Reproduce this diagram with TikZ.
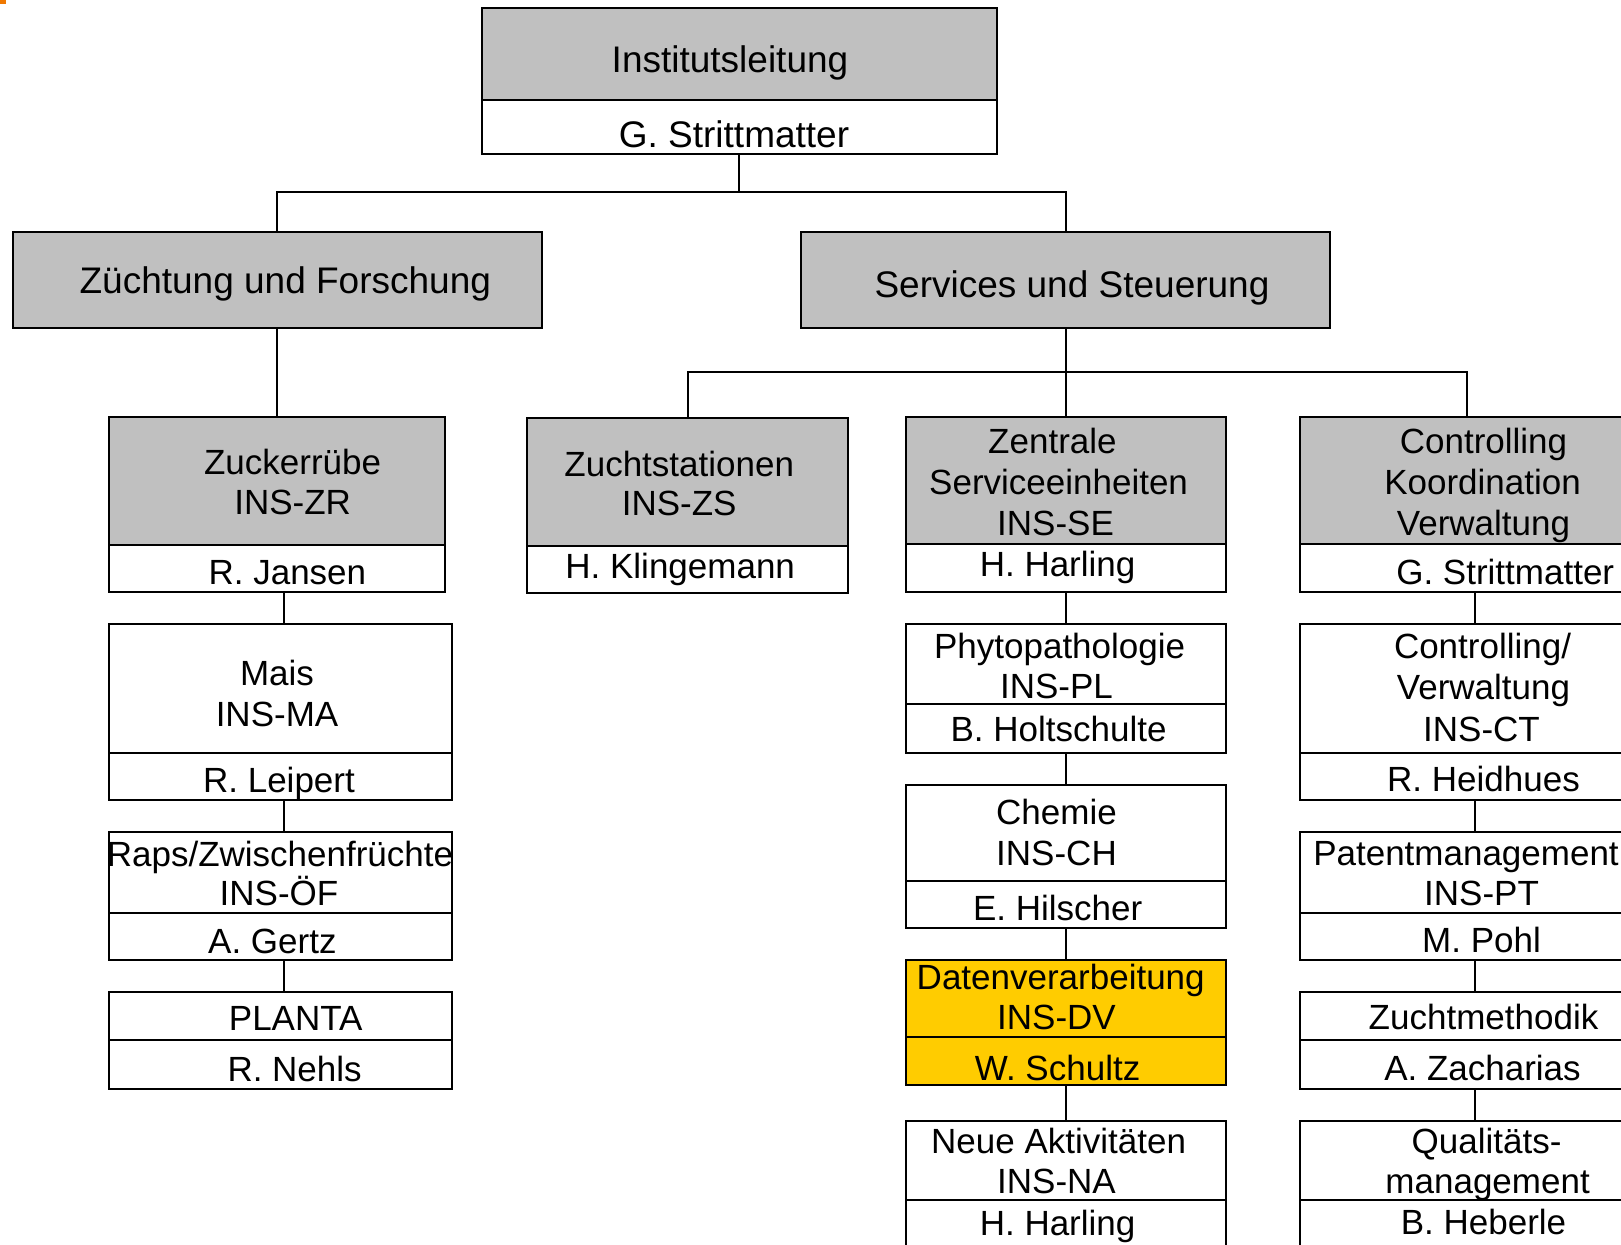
\documentclass[tikz,border=0pt]{standalone}
\usepackage{fontspec}
\setmainfont{Liberation Sans}
\definecolor{boxgrey}{RGB}{192,192,192}
\definecolor{dvgold}{RGB}{255,204,0}
\definecolor{markorange}{RGB}{240,120,0}
\newcommand\orgbox[6]{\node[#6, minimum width={#3-#2}, minimum height={#5-#4}, anchor=north west] (#1) at (#2,#4) {};}
\tikzset{
  frame/.style={draw=black, line width=2pt, inner sep=0pt, outer sep=0pt},
  greybox/.style={frame, fill=boxgrey},
  whitebox/.style={frame, fill=white},
  goldbox/.style={frame, fill=dvgold},
  lbl/.style={inner sep=0pt, anchor=base, font=\fontsize{35}{41}\selectfont},
  biglbl/.style={lbl, font=\fontsize{37}{43}\selectfont},
  conn/.style={draw=black, line width=2pt},
}
\begin{document}
\begin{tikzpicture}[x=1pt,y=-1pt]
\useasboundingbox (0,0) rectangle (1621,1244);
\fill[white] (0,0) rectangle (1621,1244);
\clip (0,0) rectangle (1621,1244);
\fill[markorange] (0,0) rectangle (6,3.6);

% column coordinates for connectors
\coordinate (cTop) at (739,0);
\coordinate (cZF) at (277,0);
\coordinate (cSS) at (1065.5,0);
\coordinate (cZS) at (687.5,0);
\coordinate (cRC) at (1466.5,0);
\coordinate (cL) at (284,0);
\coordinate (cM) at (1065.8,0);
\coordinate (cR) at (1475,0);
\coordinate (j1) at (739,192);
\coordinate (j2) at (1065.5,372);

% boxes
\orgbox{ilH}{482}{997}{8.3}{100.3}{greybox}
\orgbox{ilP}{482}{997}{100.3}{154}{whitebox}
\orgbox{zf}{13.4}{541.7}{231.6}{327.7}{greybox}
\orgbox{ss}{801.2}{1329.5}{231.6}{327.7}{greybox}

\orgbox{zrH}{108.5}{444.5}{416.6}{544.8}{greybox}
\orgbox{zrP}{108.5}{444.5}{544.8}{592.4}{whitebox}
\orgbox{maH}{108.5}{451.8}{624.4}{752.6}{whitebox}
\orgbox{maP}{108.5}{451.8}{752.6}{800.2}{whitebox}
\orgbox{ofH}{108.5}{451.8}{832.2}{912.8}{whitebox}
\orgbox{ofP}{108.5}{451.8}{912.8}{960.4}{whitebox}
\orgbox{plH}{108.5}{451.8}{992.4}{1040}{whitebox}
\orgbox{plP}{108.5}{451.8}{1040}{1088.6}{whitebox}

\orgbox{zsH}{527.2}{847.7}{417.7}{545.8}{greybox}
\orgbox{zsP}{527.2}{847.7}{545.8}{593.4}{whitebox}

\orgbox{seH}{905.6}{1226.1}{416.6}{543.8}{greybox}
\orgbox{seP}{905.6}{1226.1}{543.8}{592.4}{whitebox}
\orgbox{ppH}{905.6}{1226.1}{624.4}{704}{whitebox}
\orgbox{ppP}{905.6}{1226.1}{704}{752.6}{whitebox}
\orgbox{chH}{905.6}{1226.1}{784.7}{880.8}{whitebox}
\orgbox{chP}{905.6}{1226.1}{880.8}{928.4}{whitebox}
\orgbox{dvH}{905.6}{1226.1}{960.4}{1036.9}{goldbox}
\orgbox{dvP}{905.6}{1226.1}{1036.9}{1084.5}{goldbox}
\orgbox{naH}{905.6}{1226.1}{1120.6}{1200.3}{whitebox}
\orgbox{naP}{905.6}{1226.1}{1200.3}{1270}{whitebox}

\orgbox{ckH}{1299.5}{1650}{416.6}{543.8}{greybox}
\orgbox{ckP}{1299.5}{1650}{543.8}{592.4}{whitebox}
\orgbox{ctH}{1299.5}{1650}{624.4}{752.6}{whitebox}
\orgbox{ctP}{1299.5}{1650}{752.6}{800.2}{whitebox}
\orgbox{ptH}{1299.5}{1650}{832.2}{912.8}{whitebox}
\orgbox{ptP}{1299.5}{1650}{912.8}{960.4}{whitebox}
\orgbox{zmH}{1299.5}{1650}{992.4}{1040}{whitebox}
\orgbox{zmP}{1299.5}{1650}{1040}{1088.6}{whitebox}
\orgbox{qmH}{1299.5}{1650}{1120.6}{1200.3}{whitebox}
\orgbox{qmP}{1299.5}{1650}{1200.3}{1270}{whitebox}

% connectors
\draw[conn] (ilP.south -| cTop) -- (j1);
\draw[conn] (zf.north -| cZF) |- (j1) -| (ss.north -| cSS);
\draw[conn] (zf.south -| cZF) -- (zrH.north -| cZF);
\draw[conn] (ss.south -| cSS) -- (j2);
\draw[conn] (zsH.north -| cZS) |- (j2) -| (ckH.north -| cRC);
\draw[conn] (j2) -- (seH.north -| cSS);
\draw[conn] (zrP.south -| cL) -- (maH.north -| cL);
\draw[conn] (maP.south -| cL) -- (ofH.north -| cL);
\draw[conn] (ofP.south -| cL) -- (plH.north -| cL);
\draw[conn] (seP.south -| cM) -- (ppH.north -| cM);
\draw[conn] (ppP.south -| cM) -- (chH.north -| cM);
\draw[conn] (chP.south -| cM) -- (dvH.north -| cM);
\draw[conn] (dvP.south -| cM) -- (naH.north -| cM);
\draw[conn] (ckP.south -| cR) -- (ctH.north -| cR);
\draw[conn] (ctP.south -| cR) -- (ptH.north -| cR);
\draw[conn] (ptP.south -| cR) -- (zmH.north -| cR);
\draw[conn] (zmP.south -| cR) -- (qmH.north -| cR);

% labels
\node[biglbl] (t01) at (730,72.5) {Institutsleitung};
\node[biglbl] (t02) at (734,147) {G. Strittmatter};
\node[biglbl] (t03) at (285.3,293.5) {Züchtung und Forschung};
\node[biglbl] (t04) at (1072,297.5) {Services und Steuerung};

\node[lbl] (t05) at (292.6,474) {Zuckerrübe};
\node[lbl] (t06) at (292.6,514.5) {INS-ZR};
\node[lbl] (t07) at (287.4,584) {R. Jansen};
\node[lbl] (t08) at (277,685) {Mais};
\node[lbl] (t09) at (277,726.5) {INS-MA};
\node[lbl] (t10) at (279,792.5) {R. Leipert};
\node[lbl] (t11) at (280,866) {Raps/Zwischenfrüchte};
\node[lbl] (t12) at (279,905) {INS-ÖF};
\node[lbl] (t13) at (272.4,953) {A. Gertz};
\node[lbl] (t14) at (295.7,1030) {PLANTA};
\node[lbl] (t15) at (294.6,1081) {R. Nehls};

\node[lbl] (t16) at (679.2,476) {Zuchtstationen};
\node[lbl] (t17) at (679.2,515.5) {INS-ZS};
\node[lbl] (t18) at (680.2,578.5) {H. Klingemann};

\node[lbl] (t19) at (1052.4,453.5) {Zentrale};
\node[lbl] (t20) at (1058.6,494) {Serviceeinheiten};
\node[lbl] (t21) at (1055.5,535) {INS-SE};
\node[lbl] (t22) at (1057.6,576.5) {H. Harling};
\node[lbl] (t23) at (1059.6,658) {Phytopathologie};
\node[lbl] (t24) at (1056.5,698.5) {INS-PL};
\node[lbl] (t25) at (1058.6,741) {B. Holtschulte};
\node[lbl] (t26) at (1056.5,824.5) {Chemie};
\node[lbl] (t27) at (1056.5,865) {INS-CH};
\node[lbl] (t28) at (1057.6,920) {E. Hilscher};
\node[lbl] (t29) at (1060.7,989) {Datenverarbeitung};
\node[lbl] (t30) at (1056.5,1029.5) {INS-DV};
\node[lbl] (t31) at (1057.6,1080) {W. Schultz};
\node[lbl] (t32) at (1058.6,1153.5) {Neue Aktivitäten};
\node[lbl] (t33) at (1056.5,1193.5) {INS-NA};
\node[lbl] (t34) at (1057.6,1235) {H. Harling};

\node[lbl] (t35) at (1483.5,453.5) {Controlling};
\node[lbl] (t36) at (1482.5,494) {Koordination};
\node[lbl] (t37) at (1483.5,535) {Verwaltung};
\node[lbl] (t38) at (1505.2,584) {G. Strittmatter};
\node[lbl] (t39) at (1482.5,658) {Controlling/};
\node[lbl] (t40) at (1483.5,699.5) {Verwaltung};
\node[lbl] (t41) at (1481.5,741) {INS-CT};
\node[lbl] (t42) at (1483.5,791.5) {R. Heidhues};
\node[lbl] (t43) at (1466,865) {Patentmanagement};
\node[lbl] (t44) at (1481.5,905) {INS-PT};
\node[lbl] (t45) at (1481.5,952) {M. Pohl};
\node[lbl] (t46) at (1483.5,1029.5) {Zuchtmethodik};
\node[lbl] (t47) at (1482.5,1080) {A. Zacharias};
\node[lbl] (t48) at (1486.6,1153.5) {Qualitäts-};
\node[lbl] (t49) at (1487.6,1193) {management};
\node[lbl] (t50) at (1483.5,1234) {B. Heberle};
\end{tikzpicture}
\end{document}
